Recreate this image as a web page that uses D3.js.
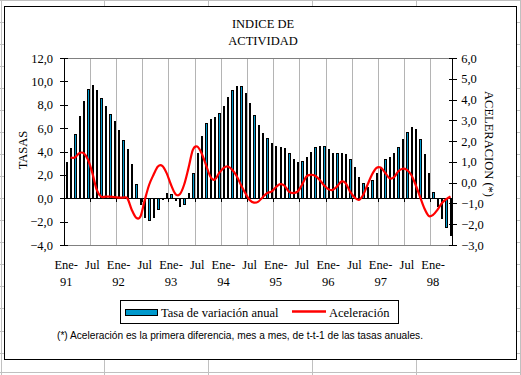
<!DOCTYPE html>
<html>
<head>
<meta charset="utf-8">
<script src="https://cdnjs.cloudflare.com/ajax/libs/d3/7.8.5/d3.min.js"></script>
<style>
body { margin: 0; background: #fff; }
svg { display: block; }
</style>
</head>
<body>
<svg id="chart"></svg>
<script>
const meses = ['Ene','Feb','Mar','Abr','May','Jun','Jul','Ago','Sep','Oct','Nov','Dic']
const anios = ['91','92','93','94','95','96','97','98']

// Tasa de variación anual, Ene-91 .. May-98
const tasa = [
    3.1, 4.3, 5.5, 7.0, 8.35, 9.35, 9.7, 9.3, 8.6, 7.9, 7.2, 6.6,
    5.8, 5.0, 4.2, 2.9, 1.2, -0.5, -1.6, -1.9, -1.6, -0.95, -0.05, 0.45,
    0.35, -0.15, -0.7, -0.5, 0.45, 2.2, 3.9, 5.35, 6.4, 6.8, 6.95, 7.3,
    7.9, 8.65, 9.3, 9.6, 9.6, 9.0, 8.15, 7.15, 6.25, 5.55, 5.15, 4.7,
    4.5, 4.4, 4.3, 3.9, 3.4, 3.1, 3.2, 3.5, 4.0, 4.4, 4.5, 4.45,
    4.2, 3.85, 3.85, 3.85, 3.75, 3.35, 2.65, 1.85, 1.3, 0.95, 1.55, 2.2,
    2.7, 3.4, 3.55, 3.85, 4.35, 5.05, 5.7, 6.1, 5.9, 5.05, 3.75, 2.15,
    0.55, -0.7, -1.7, -2.5, -3.15
]

// Aceleración (eje derecho), no value for Ene-91
const aceleracion = [
    null, 1.21, 1.21, 1.42, 1.42, 1.1, 0.46, -0.35, -0.67, -0.67, -0.67, -0.7,
    -0.72, -0.72, -0.75, -1.3, -1.68, -1.63, -0.83, -0.1, 0.38, 0.78, 0.81, 0.46,
    -0.1, -0.54, -0.56, -0.1, 0.7, 1.58, 1.74, 1.42, 0.86, 0.3, 0.14, 0.46,
    0.7, 0.78, 0.62, 0.33, -0.1, -0.5, -0.83, -0.96, -0.91, -0.7, -0.5, -0.43,
    -0.22, -0.07, -0.15, -0.43, -0.5, -0.43, -0.1, 0.3, 0.38, 0.33, 0.14, -0.12,
    -0.31, -0.35, -0.19, 0.05, -0.03, -0.43, -0.7, -0.83, -0.59, -0.1, 0.38, 0.7,
    0.73, 0.49, 0.22, 0.25, 0.54, 0.67, 0.62, 0.38, -0.1, -0.67, -1.23, -1.6,
    -1.55, -1.31, -0.99, -0.8, -0.67
]

const tasaTicks = [-4, -2, 0, 2, 4, 6, 8, 10, 12]
const acelTicks = [-3, -2, -1, 0, 1, 2, 3, 4, 5, 6]

const categorias = []
anios.forEach(a => meses.forEach(m => categorias.push(m + '-' + a)))
categorias.splice(tasa.length)

const serif = "'Liberation Serif', 'Times New Roman', serif"
const fmt = d3.formatLocale({decimal: ',', thousands: '.', grouping: [3], currency: ['', '']}).format('.1f')

class ComboChart {

    constructor(_config) {
        this.config = {
            parentElement: _config.parentElement,
            containerWidth: 521,
            containerHeight: 375,
            plot: {left: 64, right: 452.7, top: 58, bottom: 245}
        }
        this.initVis()
    }

    initVis() {
        let vis = this
        let p = vis.config.plot

        vis.svg = d3.select(vis.config.parentElement)
            .attr('width', vis.config.containerWidth)
            .attr('height', vis.config.containerHeight)

        // spreadsheet grid behind the chart object
        let sheet = vis.svg.append('g').attr('stroke', '#c0c0c0').attr('shape-rendering', 'crispEdges')
        ;[1, 104, 208, 312.7, 416.7, 520].forEach(x => {
            sheet.append('line').attr('x1', x).attr('x2', x).attr('y1', 0).attr('y2', 375)
        })
        d3.range(0, 17).map(k => k * 22.07).concat([372]).forEach(y => {
            sheet.append('line').attr('x1', 0).attr('x2', 521).attr('y1', y).attr('y2', y)
        })

        vis.svg.append('rect')
            .attr('x', 4.5).attr('y', 6.5)
            .attr('width', 512).attr('height', 353)
            .attr('fill', '#fff').attr('stroke', '#000')
            .attr('shape-rendering', 'crispEdges')

        vis.xScale = d3.scaleBand().domain(categorias).range([p.left, p.right])
        vis.yLeft = d3.scaleLinear().domain([-4, 12]).range([p.bottom, p.top])
        vis.yRight = d3.scaleLinear().domain([-3, 6]).range([p.bottom, p.top])

        vis.renderVis()
    }

    renderVis() {
        let vis = this
        let p = vis.config.plot
        let x = vis.xScale
        let bw = x.bandwidth()
        let center = d => x(d) + bw / 2
        let y0 = vis.yLeft(0)

        // vertical gridlines every 6 months
        let gridIdx = d3.range(6, categorias.length, 6)
        vis.svg.append('g').selectAll('line').data(gridIdx).join('line')
            .attr('x1', i => x(categorias[i])).attr('x2', i => x(categorias[i]))
            .attr('y1', p.top).attr('y2', p.bottom)
            .attr('stroke', '#b4b4b4')
            .attr('shape-rendering', 'crispEdges')

        vis.svg.append('rect')
            .attr('x', p.left).attr('y', p.top)
            .attr('width', p.right - p.left).attr('height', p.bottom - p.top)
            .attr('fill', 'none').attr('stroke', '#808080')
            .attr('shape-rendering', 'crispEdges')

        // bars
        let hw = 0.67
        vis.svg.append('g').selectAll('rect').data(tasa).join('rect')
            .attr('x', (d, i) => Math.round(center(categorias[i]) - hw) + 0.5)
            .attr('width', (d, i) => Math.round(center(categorias[i]) + hw) - Math.round(center(categorias[i]) - hw))
            .attr('y', d => Math.round(vis.yLeft(Math.max(d, 0))) + 0.5)
            .attr('height', d => Math.round(vis.yLeft(Math.min(d, 0))) - Math.round(vis.yLeft(Math.max(d, 0))))
            .attr('fill', '#0099cc')
            .attr('stroke', '#000')
            .attr('shape-rendering', 'crispEdges')

        // category axis at zero
        vis.svg.append('line')
            .attr('x1', p.left).attr('x2', p.right)
            .attr('y1', y0).attr('y2', y0)
            .attr('stroke', '#000')
            .attr('shape-rendering', 'crispEdges')
        vis.svg.append('g').selectAll('line').data(gridIdx).join('line')
            .attr('x1', i => x(categorias[i])).attr('x2', i => x(categorias[i]))
            .attr('y1', y0).attr('y2', y0 + 4)
            .attr('stroke', '#000')
            .attr('shape-rendering', 'crispEdges')

        // acceleration line
        let line = d3.line()
            .defined(d => d !== null)
            .x((d, i) => center(categorias[i]))
            .y(d => vis.yRight(d))
            .curve(d3.curveCatmullRom.alpha(0))
        vis.svg.append('path')
            .datum(aceleracion)
            .attr('d', line)
            .attr('fill', 'none')
            .attr('stroke', '#ff0000')
            .attr('stroke-width', 2.2)

        // left axis
        let leftG = vis.svg.append('g')
            .attr('transform', `translate(${p.left},0)`)
            .call(d3.axisLeft(vis.yLeft).tickValues(tasaTicks).tickFormat(fmt).tickSize(4).tickPadding(7))
        leftG.selectAll('.tick line').attr('x2', -4).attr('x1', 4)

        // right axis
        let rightG = vis.svg.append('g')
            .attr('transform', `translate(${p.right},0)`)
            .call(d3.axisRight(vis.yRight).tickValues(acelTicks).tickFormat(fmt).tickSize(4).tickPadding(4.5))
        rightG.selectAll('.tick line').attr('x1', -4).attr('x2', 4)

        ;[leftG, rightG].forEach(g => {
            g.attr('shape-rendering', 'crispEdges')
            g.select('.domain').attr('d', `M0,${p.top}V${p.bottom}`)
            g.selectAll('text').attr('font-family', serif).attr('font-size', 12.5).attr('fill', '#000')
        })

        // category labels
        let labIdx = d3.range(0, categorias.length, 6)
        let labs = vis.svg.append('g')
            .attr('font-family', serif).attr('font-size', 12.5)
            .attr('text-anchor', 'middle')
            .selectAll('g').data(labIdx).join('g')
            .attr('transform', i => `translate(${center(categorias[i])},0)`)
        labs.append('text')
            .attr('y', 269)
            .text(i => categorias[i].startsWith('Jul') ? 'Jul' : 'Ene-')
        labs.filter(i => categorias[i].startsWith('Ene')).append('text')
            .attr('y', 286)
            .text(i => categorias[i].split('-')[1])

        // titles
        vis.svg.append('text')
            .attr('x', 263).attr('y', 28)
            .attr('text-anchor', 'middle')
            .attr('font-family', serif).attr('font-size', 12.5)
            .text('INDICE DE')
        vis.svg.append('text')
            .attr('x', 263).attr('y', 45)
            .attr('text-anchor', 'middle')
            .attr('font-family', serif).attr('font-size', 12.5)
            .text('ACTIVIDAD')

        vis.svg.append('text')
            .attr('transform', 'translate(27,150) rotate(-90)')
            .attr('text-anchor', 'middle')
            .attr('font-family', serif).attr('font-size', 12.5)
            .text('TASAS')
        vis.svg.append('text')
            .attr('transform', 'translate(485,144) rotate(90)')
            .attr('text-anchor', 'middle')
            .attr('font-family', serif).attr('font-size', 12.5)
            .text('ACELERACION (*)')

        // legend
        let lg = vis.svg.append('g')
        lg.append('rect')
            .attr('x', 120.5).attr('y', 300.5).attr('width', 278).attr('height', 23)
            .attr('fill', '#fff').attr('stroke', '#000')
            .attr('shape-rendering', 'crispEdges')
        lg.append('rect')
            .attr('x', 125.5).attr('y', 309.5).attr('width', 32).attr('height', 6)
            .attr('fill', '#0099cc').attr('stroke', '#000')
            .attr('shape-rendering', 'crispEdges')
        lg.append('text')
            .attr('x', 161).attr('y', 317)
            .attr('font-family', serif).attr('font-size', 12.5)
            .text('Tasa de variación anual')
        lg.append('line')
            .attr('x1', 292).attr('x2', 326).attr('y1', 311.5).attr('y2', 311.5)
            .attr('stroke', '#ff0000').attr('stroke-width', 2.5)
        lg.append('text')
            .attr('x', 329).attr('y', 317)
            .attr('font-family', serif).attr('font-size', 12.5)
            .text('Aceleración')

        vis.svg.append('text')
            .attr('x', 57).attr('y', 339)
            .attr('font-family', "'Liberation Sans', Arial, sans-serif").attr('font-size', 10)
            .attr('textLength', 366).attr('lengthAdjust', 'spacingAndGlyphs')
            .text('(*) Aceleración es la primera diferencia, mes a mes, de t-t-1 de las tasas anuales.')
    }
}

new ComboChart({parentElement: '#chart'})
</script>
</body>
</html>
